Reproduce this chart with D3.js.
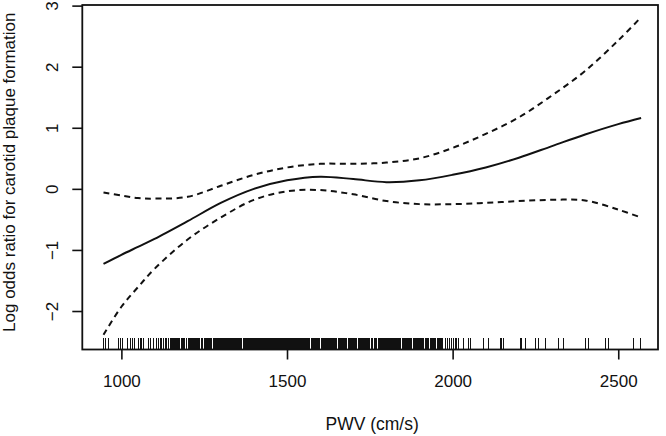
<!DOCTYPE html>
<html>
<head>
<meta charset="utf-8">
<script src="https://cdn.jsdelivr.net/npm/d3@7"></script>
<style>
  html, body { margin: 0; padding: 0; background: #fff; }
  svg { display: block; font-family: "Liberation Sans", Arial, sans-serif; }
</style>
</head>
<body>
<svg id="chart" width="666" height="436"></svg>
<script>
// ---- data ----
const pwv   = [946, 1000, 1050, 1100, 1200, 1300, 1400, 1500, 1600, 1700, 1800, 1900, 2000, 2100, 2200, 2300, 2400, 2500, 2569];
const fit   = [-1.23, -1.08, -0.95, -0.82, -0.53, -0.23, 0.00, 0.14, 0.20, 0.16, 0.11, 0.14, 0.23, 0.35, 0.51, 0.70, 0.89, 1.06, 1.16];
const upper = [-0.06, -0.11, -0.15, -0.16, -0.13, 0.05, 0.23, 0.35, 0.41, 0.41, 0.43, 0.50, 0.67, 0.90, 1.17, 1.53, 1.93, 2.43, 2.81];
const lower = [-2.39, -1.93, -1.61, -1.31, -0.83, -0.47, -0.18, -0.04, -0.02, -0.09, -0.20, -0.25, -0.25, -0.23, -0.20, -0.18, -0.19, -0.34, -0.47];

const rugValues = [
  947, 952, 960, 992, 997, 1004, 1017, 1027, 1035, 1040, 1052, 1057, 1062, 1067, 1082, 1087, 1097, 1107, 1112, 1117, 1122, 1127, 1132, 1137, 1142, 1147, 1151,
  1154, 1157, 1160, 1163, 1166, 1169, 1172, 1175, 1181, 1184, 1187, 1190, 1196, 1202, 1205, 1208, 1211, 1214, 1217, 1220, 1223, 1226, 1229, 1232, 1235,
  1241, 1244, 1250, 1253, 1256, 1259, 1262, 1265, 1268, 1271, 1277, 1280, 1283, 1286, 1289, 1292, 1295, 1298, 1301, 1304, 1307, 1310, 1313, 1316, 1319,
  1322, 1325, 1328, 1331, 1334, 1337, 1340, 1343, 1346, 1349, 1352, 1355, 1358, 1361, 1364, 1370, 1373, 1376, 1379, 1382, 1385, 1388, 1391, 1394, 1397,
  1400, 1403, 1406, 1409, 1412, 1415, 1418, 1421, 1424, 1427, 1430, 1433, 1436, 1439, 1442, 1445, 1448, 1451, 1454, 1457, 1460, 1463, 1466, 1469, 1472,
  1475, 1478, 1481, 1484, 1487, 1490, 1493, 1496, 1499, 1502, 1505, 1508, 1511, 1514, 1517, 1520, 1523, 1526, 1529, 1532, 1535, 1538, 1541, 1544, 1547,
  1550, 1553, 1556, 1559, 1562, 1565, 1568, 1574, 1577, 1580, 1583, 1586, 1589, 1592, 1595, 1598, 1604, 1607, 1610, 1613, 1616, 1619, 1622, 1625, 1628,
  1631, 1634, 1637, 1640, 1643, 1646, 1649, 1655, 1658, 1661, 1664, 1667, 1670, 1673, 1676, 1679, 1685, 1688, 1691, 1694, 1697, 1700, 1703, 1706, 1709,
  1715, 1718, 1721, 1724, 1727, 1730, 1733, 1736, 1739, 1742, 1745, 1748, 1754, 1757, 1763, 1766, 1769, 1775, 1778, 1781, 1784, 1787, 1790, 1793, 1796,
  1799, 1802, 1805, 1808, 1811, 1814, 1817, 1820, 1823, 1826, 1829, 1832, 1835, 1838, 1841, 1844, 1850, 1853, 1856, 1859, 1862, 1865, 1868, 1871, 1874,
  1877, 1883, 1886, 1889, 1892, 1895, 1898, 1901, 1904, 1907, 1910, 1913, 1919, 1922, 1925, 1928, 1934, 1937, 1940, 1943, 1946, 1949, 1955, 1958, 1961,
  1964, 1967, 1970, 1978, 1984, 1990, 1996, 2003, 2008, 2013, 2018, 2033, 2048, 2053, 2093, 2108, 2144, 2149, 2154, 2204, 2209, 2219, 2251, 2259, 2279,
  2320, 2335, 2400, 2410, 2460, 2470, 2546, 2566
];

const xTicks = [1000, 1500, 2000, 2500];
const yTicks = [-2, -1, 0, 1, 2, 3];
const xTitle = "PWV (cm/s)";
const yTitle = "Log odds ratio for carotid plaque formation";

// ---- layout ----
const box = { left: 82.3, right: 658, top: 5, bottom: 349.5 };
const ink = "#111";

const svg = d3.select("#chart");

const x = d3.scaleLinear().domain([882, 2620]).range([box.left, box.right]);
const y = d3.scaleLinear().domain([-2.63, 3.01]).range([box.bottom, box.top]);

// rug
svg.append("g").selectAll("line")
  .data(rugValues)
  .join("line")
  .attr("x1", d => x(d)).attr("x2", d => x(d))
  .attr("y1", box.bottom).attr("y2", box.bottom - 12)
  .attr("stroke", ink)
  .attr("stroke-width", 1)
  .attr("shape-rendering", "crispEdges");

// curves
const line = (vals) => d3.line()
  .x((d, i) => x(pwv[i]))
  .y(d => y(d))
  .curve(d3.curveCatmullRom.alpha(0.5))(vals);

svg.append("path").attr("d", line(upper))
  .attr("fill", "none").attr("stroke", ink).attr("stroke-width", 2)
  .attr("stroke-dasharray", "6,4.5");
svg.append("path").attr("d", line(lower))
  .attr("fill", "none").attr("stroke", ink).attr("stroke-width", 2)
  .attr("stroke-dasharray", "6,4.5");
svg.append("path").attr("d", line(fit))
  .attr("fill", "none").attr("stroke", ink).attr("stroke-width", 2);

// box
svg.append("rect")
  .attr("x", box.left).attr("y", box.top)
  .attr("width", box.right - box.left).attr("height", box.bottom - box.top)
  .attr("fill", "none").attr("stroke", ink).attr("stroke-width", 1.8);

// x axis
const gx = svg.append("g")
  .attr("transform", `translate(0,${box.bottom})`)
  .call(d3.axisBottom(x).tickValues(xTicks).tickSize(10).tickFormat(d3.format("d")));
gx.select(".domain").remove();
gx.selectAll(".tick line").attr("stroke", ink).attr("stroke-width", 1.6);
gx.selectAll(".tick text")
  .attr("y", 387 - box.bottom).attr("dy", 0)
  .attr("fill", ink).style("font-size", "17px")
  .style("font-family", '"Liberation Sans", Arial, sans-serif');

// y axis
const gy = svg.append("g")
  .attr("transform", `translate(${box.left},0)`)
  .call(d3.axisLeft(y).tickValues(yTicks).tickSize(10).tickFormat(d3.format("d")));
gy.select(".domain").remove();
gy.selectAll(".tick line").attr("stroke", ink).attr("stroke-width", 1.6);
gy.selectAll(".tick text")
  .attr("transform", "rotate(-90)")
  .attr("x", 0).attr("y", 58 - box.left).attr("dy", 0)
  .attr("text-anchor", "middle")
  .attr("fill", ink).style("font-size", "17px")
  .style("font-family", '"Liberation Sans", Arial, sans-serif');

// titles
svg.append("text")
  .attr("x", (box.left + box.right) / 2 + 2).attr("y", 430)
  .attr("text-anchor", "middle").attr("fill", ink)
  .style("font-size", "17.5px")
  .text(xTitle);

svg.append("text")
  .attr("transform", `translate(15,${(box.top + box.bottom) / 2 - 5}) rotate(-90)`)
  .attr("text-anchor", "middle").attr("fill", ink)
  .style("font-size", "17px")
  .text(yTitle);
</script>
</body>
</html>
